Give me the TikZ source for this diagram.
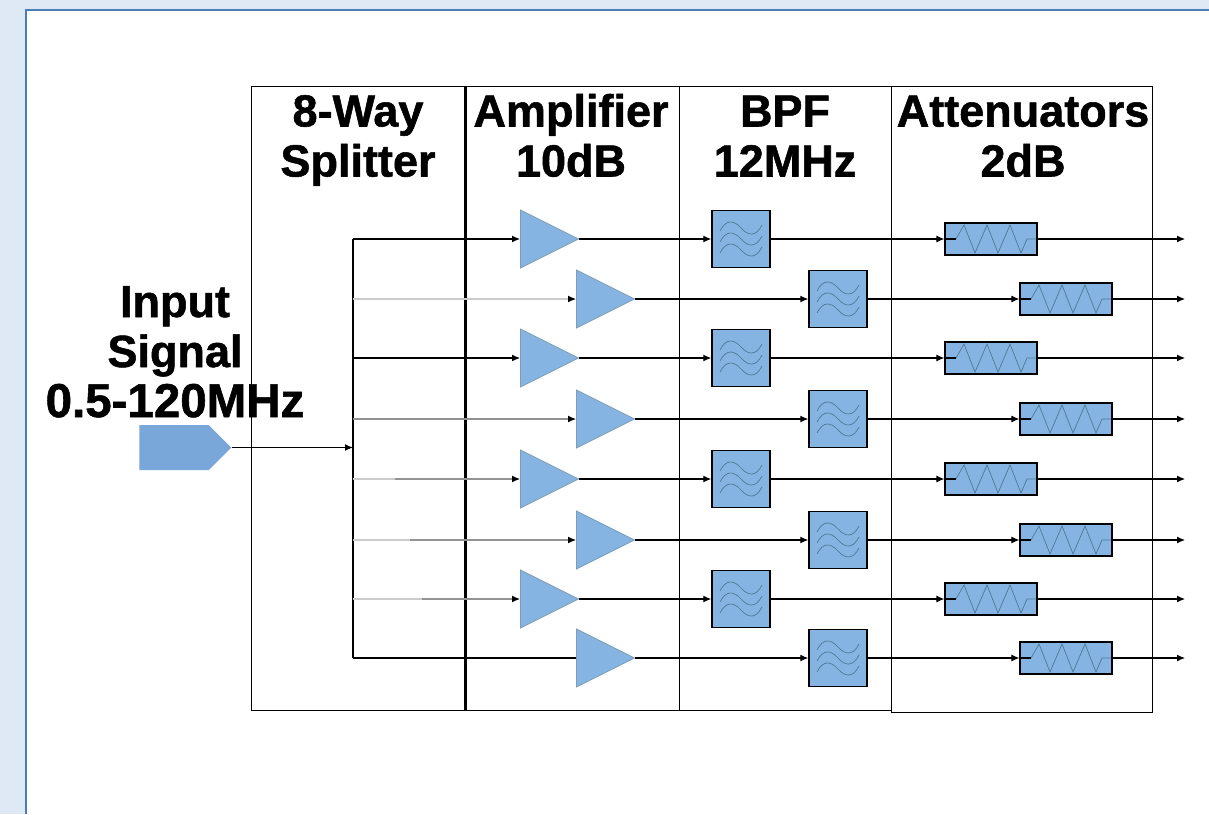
\documentclass[tikz,border=0pt]{standalone}
\usepackage{fontspec}
\setmainfont[BoldFeatures={FakeBold=1.2}]{Liberation Sans}
\usetikzlibrary{shapes.geometric,shapes.symbols,arrows.meta}
\definecolor{pagebg}{HTML}{DEE9F5}
\definecolor{pageline}{HTML}{4A7EBB}
\definecolor{blockfill}{HTML}{85B4E2}
\definecolor{srcfill}{HTML}{7AA7DA}
\definecolor{blockedge}{HTML}{7F9DB9}
\definecolor{waveline}{HTML}{4F7897}
\tikzset{
  column/.style={draw,line width=1pt,anchor=north west,inner sep=0pt,outer sep=0pt},
  header/.style={font=\fontsize{45}{50}\selectfont\bfseries,align=center,inner sep=0pt},
  amp/.style={isosceles triangle,isosceles triangle stretches,draw=blockedge,fill=blockfill,
    line width=.8pt,minimum width=58pt,minimum height=58pt,inner sep=0pt,anchor=west},
  bpf/.style={draw,line width=1.5pt,fill=blockfill,minimum width=58pt,minimum height=57pt,inner sep=0pt,
    path picture={
      \foreach \dy in {-11,0,11}
        \draw[waveline,line width=.7pt]
          ([yshift=\dy pt]path picture bounding box.center) ++(-21,3)
          .. controls +(6,-12) and +(-7,-8) .. ++(21,-3)
          .. controls +(7,8) and +(-6,12) .. ++(21,-3);
    }},
  atten/.style={draw,line width=1.2pt,fill=blockfill,minimum width=92pt,minimum height=32pt,inner sep=0pt,
    path picture={
      \draw[waveline,line width=.7pt,shift={(path picture bounding box.center)}]
        (-35,0) -- (-27,-14) -- (-16,14) -- (-4,-14) -- (7,14) -- (19,-14) -- (30,14) -- (36,0) -- (46,0);
      \draw[line width=1.2pt,shift={(path picture bounding box.center)}] (-46,0) -- (-35,0);
    }},
  wire/.style={line width=1.1pt,-{Latex[length=8pt,width=7pt,black]}},
  plainwire/.style={line width=1.1pt},
  faded/.style={wire,draw=gray!85},
  pale/.style={wire,draw=gray!40},
  palebit/.style={line width=1.3pt,draw=gray!40},
}
\begin{document}
\begin{tikzpicture}[x=1pt,y=-1pt]
\useasboundingbox (0,0) rectangle (1209,814);
\fill[pagebg] (0,0) rectangle (1209,814);
\fill[white] (26,10) rectangle (1209,814);
\draw[pageline,line width=2.4pt] (26,814) -- (26,10) -- (1209,10);
% columns
\node[column,minimum width=214pt,minimum height=624pt] (split)  at (251,86) {};
\node[column,minimum width=214pt,minimum height=624pt] (ampcol) at (465,86) {};
\node[column,minimum width=212pt,minimum height=624pt] (bpfcol) at (679,86) {};
\node[column,minimum width=261pt,minimum height=626pt] (attcol) at (891,86) {};
\draw[line width=3pt] (split.north east) -- (split.south east);
% titles
\node[header] (t1) at (358,141.5) {8-Way\strut\\Splitter\strut};
\node[header] (t2) at (571,141.5) {Amplifier\strut\\10dB\strut};
\node[header] (t3) at (785,141.5) {BPF\strut\\12MHz\strut};
\node[header] (t4) at (1023,141.5) {Attenuators\strut\\2dB\strut};
\node[header] (input) at (175,357) {Input\strut\\Signal\strut\\{\fontsize{47.5}{50}\selectfont 0.5-120MHz}\strut};
\node[signal,signal to=east,signal pointer angle=90,fill=srcfill,minimum width=92pt,minimum height=45pt,inner sep=0pt] (src) at (174,447.5) {};
% bus
\coordinate (s1) at (353,239);
\coordinate (s2) at (353,299);
\coordinate (s3) at (353,358);
\coordinate (s4) at (353,419);
\coordinate (s5) at (353,479);
\coordinate (s6) at (353,540);
\coordinate (s7) at (353,599);
\coordinate (s8) at (353,658);
\coordinate (sin) at (353,447.5);
\coordinate (m5) at (395,479);
\coordinate (m6) at (410,540);
\coordinate (m7) at (422,599);
% amplifiers
\node[amp] (a1) at (520,239) {};
\node[amp] (a2) at (576,299) {};
\node[amp] (a3) at (520,358) {};
\node[amp] (a4) at (576,419) {};
\node[amp] (a5) at (520,479) {};
\node[amp] (a6) at (576,540) {};
\node[amp] (a7) at (520,599) {};
\node[amp] (a8) at (576,658) {};
% filters
\node[bpf] (f1) at (741,239) {};
\node[bpf] (f2) at (838,299) {};
\node[bpf] (f3) at (741,358) {};
\node[bpf] (f4) at (838,419) {};
\node[bpf] (f5) at (741,479) {};
\node[bpf] (f6) at (838,540) {};
\node[bpf] (f7) at (741,599) {};
\node[bpf] (f8) at (838,658) {};
% attenuators
\node[atten] (r1) at (991,239) {};
\node[atten] (r2) at (1066,299) {};
\node[atten] (r3) at (991,358) {};
\node[atten] (r4) at (1066,419) {};
\node[atten] (r5) at (991,479) {};
\node[atten] (r6) at (1066,540) {};
\node[atten] (r7) at (991,599) {};
\node[atten] (r8) at (1066,658) {};
% outputs
\coordinate (o1) at (1185,239);
\coordinate (o2) at (1185,299);
\coordinate (o3) at (1185,358);
\coordinate (o4) at (1185,419);
\coordinate (o5) at (1185,479);
\coordinate (o6) at (1185,540);
\coordinate (o7) at (1185,599);
\coordinate (o8) at (1185,658);
\draw[line width=1.2pt] (s1) -- (s8);
\draw[wire] (src.east) -- (sin);
\draw[wire] (s1) -- (a1.west);
\draw[pale] (s2) -- (a2.west);
\draw[wire] (s3) -- (a3.west);
\draw[faded] (s4) -- (a4.west);
\draw[faded] (s5) -- (a5.west);
\draw[faded] (s6) -- (a6.west);
\draw[faded] (s7) -- (a7.west);
\draw[plainwire] (s8) -- (a8.west);
\draw[palebit] (s5) -- (m5);
\draw[palebit] (s6) -- (m6);
\draw[palebit] (s7) -- (m7);
\draw[wire] (a1.apex) -- (f1);
\draw[wire] (a2.apex) -- (f2);
\draw[wire] (a3.apex) -- (f3);
\draw[wire] (a4.apex) -- (f4);
\draw[wire] (a5.apex) -- (f5);
\draw[wire] (a6.apex) -- (f6);
\draw[wire] (a7.apex) -- (f7);
\draw[wire] (a8.apex) -- (f8);
\draw[wire] (f1) -- (r1);
\draw[wire] (f2) -- (r2);
\draw[wire] (f3) -- (r3);
\draw[wire] (f4) -- (r4);
\draw[wire] (f5) -- (r5);
\draw[wire] (f6) -- (r6);
\draw[wire] (f7) -- (r7);
\draw[wire] (f8) -- (r8);
\draw[wire] (r1) -- (o1);
\draw[wire] (r2) -- (o2);
\draw[wire] (r3) -- (o3);
\draw[wire] (r4) -- (o4);
\draw[wire] (r5) -- (o5);
\draw[wire] (r6) -- (o6);
\draw[wire] (r7) -- (o7);
\draw[wire] (r8) -- (o8);
\end{tikzpicture}
\end{document}
